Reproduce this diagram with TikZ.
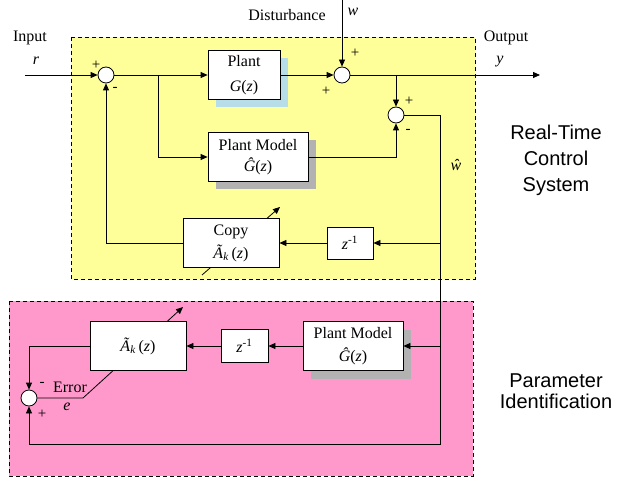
\documentclass[tikz,border=0pt]{standalone}
\usepackage{fontspec}
\setmainfont{Liberation Serif}
\newfontfamily\labelsans{Liberation Sans}
\usetikzlibrary{arrows.meta,shadows}
\definecolor{rtyellow}{RGB}{255,255,153}
\definecolor{idpink}{RGB}{255,153,204}
\definecolor{plantblue}{RGB}{183,221,232}
\definecolor{modelgray}{RGB}{178,178,178}

\begin{document}
\begin{tikzpicture}[x=1pt,y=-1pt,
  >={Triangle[length=7pt,width=6pt]},
  every node/.style={font=\fontsize{16}{19}\selectfont},
  wire/.style={line width=0.8pt},
  blk/.style={draw, fill=white, line width=0.8pt, align=center, inner sep=0pt},
  blueshadow/.style={drop shadow={shadow xshift=8pt, shadow yshift=-8pt, fill=plantblue, opacity=1}},
  grayshadow/.style={drop shadow={shadow xshift=8pt, shadow yshift=-8pt, fill=modelgray, opacity=1}},
  sumj/.style={circle, draw, fill=white, line width=0.8pt, minimum size=16pt, inner sep=0pt},
  region/.style={draw, line width=0.8pt, dash pattern=on 4pt off 3pt},
  lbl/.style={inner sep=0pt},
  sign/.style={inner sep=0pt, font=\fontsize{15}{16}\selectfont},
  sidelbl/.style={inner sep=0pt, align=center, font=\labelsans\fontsize{20}{26}\selectfont}
]
\useasboundingbox (0,0) rectangle (620,478);

% dashed regions
\draw[region, fill=rtyellow] (71,37) rectangle (475,279);
\draw[region, fill=idpink] (9,301) rectangle (473,476);

% summing junctions
\node[sumj] (s1) at (106,75) {};
\node[sumj] (s2) at (342,75) {};
\node[sumj] (s3) at (396,115) {};
\node[sumj] (s4) at (29,398) {};

% adaptation arrows drawn beneath the blocks
\coordinate (cpA) at (202,275);
\coordinate (cpB) at (280,207);
\coordinate (ekink) at (83,398);
\coordinate (ekB) at (183,307);
\draw[wire,->] (cpA) -- (cpB);
\draw[wire,->] (s4.east) -- (ekink) -- (ekB);

% blocks
\node[blk, blueshadow, minimum width=72pt, minimum height=49pt] (plant) at (244,75)
  {Plant\\[6pt]\textit{G}(\textit{z})};
\node[blk, grayshadow, minimum width=100pt, minimum height=49pt] (pm1) at (258,157)
  {Plant Model\\[2pt]\textit{\^G}(\textit{z})};
\node[blk, minimum width=96pt, minimum height=49pt] (copy) at (231,243)
  {Copy\\[4pt]\textit{\~A}\textsubscript{\textit{k}}\,(\textit{z})};
\node[blk, minimum width=46pt, minimum height=32pt] (zt) at (350,243)
  {\textit{z}\textsuperscript{-1}};
\node[blk, minimum width=96pt, minimum height=49pt] (ak) at (138,346)
  {\textit{\~A}\textsubscript{\textit{k}}\,(\textit{z})};
\node[blk, minimum width=47pt, minimum height=33pt] (zp) at (244.5,346)
  {\textit{z}\textsuperscript{-1}};
\node[blk, grayshadow, minimum width=100pt, minimum height=49pt] (pm2) at (353,346)
  {Plant Model\\[4pt]\textit{\^G}(\textit{z})};

% free ends and branch points
\coordinate (rin) at (25,75);
\coordinate (win) at (342,0);
\coordinate (yout) at (540,75);
\coordinate (b1) at (158,75);
\coordinate (b2) at (396,75);
\coordinate (j1) at (440,243);
\coordinate (j2) at (440,346);
\coordinate (jb) at (440,444);

% real-time control loop
\draw[wire,->] (rin) -- (s1);
\draw[wire,->] (s1) -- (plant);
\draw[wire,->] (b1) |- (pm1.west);
\draw[wire,->] (plant) -- (s2);
\draw[wire,->] (win) -- (s2);
\draw[wire,->] (s2) -- (yout);
\draw[wire,->] (b2) -- (s3);
\draw[wire,->] (pm1.east) -| (s3.south);
\draw[wire,->] (s3.east) -| (jb) -| (s4.south);
\draw[wire,->] (j1) -- (zt);
\draw[wire,->] (zt) -- (copy);
\draw[wire,->] (copy.west) -| (s1.south);

% identification loop
\draw[wire,->] (j2) -- (pm2);
\draw[wire,->] (pm2) -- (zp);
\draw[wire,->] (zp) -- (ak);
\draw[wire,->] (ak.west) -| (s4.north);

% texts
\node[lbl] (tin) at (30,38) {Input};
\node[lbl] (tr) at (36,61) {\textit{r}};
\node[lbl] (tdist) at (287,15) {Disturbance};
\node[lbl] (tw) at (353,12) {\textit{w}};
\node[lbl] (tout) at (506,38) {Output};
\node[lbl] (ty) at (500,62) {\textit{y}};
\node[lbl] (twh) at (456,165) {\textit{\^w}};
\node[sign] (p1) at (96,65) {+};
\node[sign] (m1) at (115,89) {-};
\node[sign] (p2) at (355,53) {+};
\node[sign] (p3) at (326,91) {+};
\node[sign] (p4) at (409,101) {+};
\node[sign] (m4) at (408,131) {-};
\node[sign] (m5) at (42,384) {-};
\node[lbl] (terr) at (70,387) {Error};
\node[lbl] (te) at (67,407) {\textit{e}};
\node[sign] (p5) at (42,414) {+};

\node[sidelbl] (trt) at (556,160) {Real-Time\\Control\\System};
\node[sidelbl, font=\labelsans\fontsize{20}{21}\selectfont] (tpi) at (556,391) {Parameter\\Identification};
\end{tikzpicture}
\end{document}
